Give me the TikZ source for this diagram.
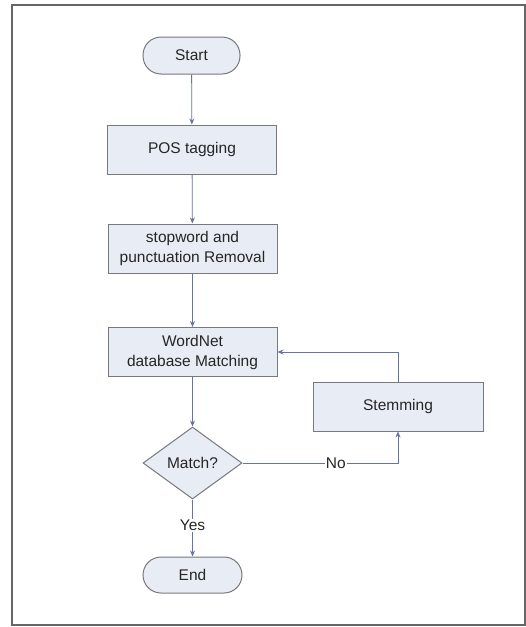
\documentclass[tikz,border=0pt]{standalone}
\usepackage{fontspec}
\setmainfont{Liberation Sans}
\usetikzlibrary{shapes.geometric,arrows.meta}
\definecolor{boxfill}{RGB}{232,236,245}
\definecolor{boxline}{RGB}{120,120,125}
\definecolor{arrowcol}{RGB}{105,115,160}
\begin{document}
\begin{tikzpicture}[x=1pt,y=-1pt,
  every node/.style={font=\fontsize{15.5}{20}\selectfont, text=black!85},
  procbox/.style={draw=boxline, fill=boxfill, line width=1pt, minimum width=169pt, minimum height=49pt, align=center, inner sep=0pt},
  termbox/.style={draw=boxline, fill=boxfill, line width=1pt, rounded corners=18pt, minimum width=97pt, minimum height=37pt, inner sep=0pt},
  decbox/.style={draw=boxline, fill=boxfill, line width=1pt, diamond, aspect=1.375, minimum width=99pt, minimum height=72pt, inner sep=0pt},
  conn/.style={draw=arrowcol, line width=0.8pt, -{Stealth[length=6pt,width=5pt]}},
  lab/.style={fill=white, inner sep=1pt}]
\useasboundingbox (0,0) rectangle (526,627);
\draw[gray!80!black, line width=1.2pt] (12,5) rectangle (525,625);
\node[termbox] (start) at (191.5,55.5) {Start};
\node[procbox] (pos) at (192,149.5) {POS tagging};
\node[procbox] (stop) at (192.5,248.5) {stopword and\\punctuation Removal};
\node[procbox] (wn) at (192.5,352) {WordNet\\database Matching};
\node[procbox, minimum width=170pt] (stem) at (398,406.5) {Stemming};
\node[decbox] (match) at (192.5,463) {Match?};
\node[termbox, minimum width=99pt, minimum height=36pt] (end) at (192.5,575) {End};
\coordinate (c1) at (398,463);
\coordinate (c2) at (398,352);
\draw[conn] (start) -- (pos);
\draw[conn] (pos) -- (stop);
\draw[conn] (stop) -- (wn);
\draw[conn] (wn) -- (match);
\draw[conn] (match) -- node[lab, pos=0.45] {Yes} (end);
\draw[conn] (match.east) -- node[lab, pos=0.6] {No} (c1) -- (stem.south);
\draw[conn] (stem.north) -- (c2) -- (wn.east);
\end{tikzpicture}
\end{document}
